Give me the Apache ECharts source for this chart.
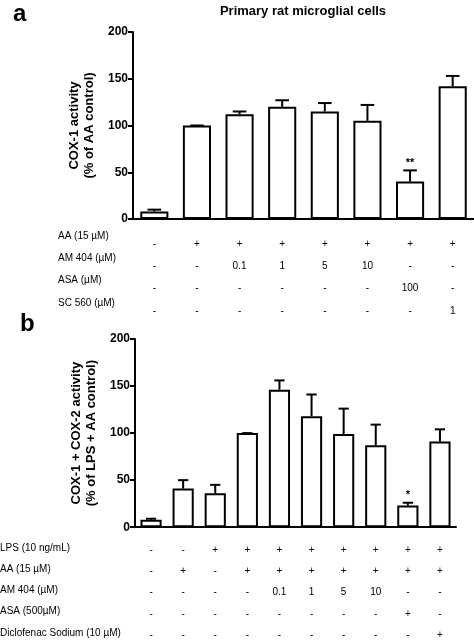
<!DOCTYPE html>
<html>
<head>
<meta charset="utf-8">
<script src="https://cdn.jsdelivr.net/npm/echarts@6/dist/echarts.min.js"></script>
<style>html,body{margin:0;padding:0;background:#fff}#chart{width:474px;height:640px}</style>
</head>
<body>
<div id="chart"></div>
<script>
// panel a
const catsA = ["c1", "c2", "c3", "c4", "c5", "c6", "c7", "c8"];
const meanA = [8, 100, 112, 120, 115, 105, 40, 142];
const errA = [10, 100, 115, 127, 124, 122, 52, 153];
const starsA = ["", "", "", "", "", "", "**", ""];
const rowLabelsA = ["AA (15 µM)", "AM 404 (µM)", "ASA (µM)", "SC 560 (µM)"];
const rowsA = [
	["-", "+", "+", "+", "+", "+", "+", "+"],
	["-", "-", "0.1", "1", "5", "10", "-", "-"],
	["-", "-", "-", "-", "-", "-", "100", "-"],
	["-", "-", "-", "-", "-", "-", "-", "1"],
];
// panel b
const catsB = ["d1", "d2", "d3", "d4", "d5", "d6", "d7", "d8", "d9", "d10"];
const meanB = [8, 41, 36, 100, 146, 118, 99, 87, 23, 91];
const errB = [9, 50, 45, 100, 156, 141, 126, 109, 26, 104];
const starsB = ["", "", "", "", "", "", "", "", "*", ""];
const rowLabelsB = ["LPS (10 ng/mL)", "AA (15 µM)", "AM 404 (µM)", "ASA (500µM)", "Diclofenac Sodium (10 µM)"];
const rowsB = [
	["-", "-", "+", "+", "+", "+", "+", "+", "+", "+"],
	["-", "+", "-", "+", "+", "+", "+", "+", "+", "+"],
	["-", "-", "-", "-", "0.1", "1", "5", "10", "-", "-"],
	["-", "-", "-", "-", "-", "-", "-", "-", "+", "-"],
	["-", "-", "-", "-", "-", "-", "-", "-", "-", "+"],
];

const font = "Liberation Sans, Arial, sans-serif";
const black = "#000";

function mainX(gi, cats) {
	return {
		type: "category", gridIndex: gi, data: cats,
		axisLine: { lineStyle: { color: black, width: 2 } },
		axisTick: { alignWithLabel: true, length: 5, lineStyle: { color: black, width: 2 } },
		axisLabel: { show: false },
	};
}
function rowX(gi, row, offset) {
	return {
		type: "category", gridIndex: gi, data: row, position: "bottom", offset: offset,
		axisLine: { show: false }, axisTick: { show: false },
		axisLabel: { color: black, fontSize: 10, fontFamily: font, interval: 0 },
	};
}
function yAxis(gi, name) {
	return {
		type: "value", gridIndex: gi, min: 0, max: 200, interval: 50,
		name: name, nameLocation: "middle", nameGap: 36,
		nameTextStyle: { color: black, fontSize: 13, fontWeight: "bold", fontFamily: font, lineHeight: 15 },
		axisLine: { show: true, lineStyle: { color: black, width: 2 } },
		axisTick: { show: true, length: 5, lineStyle: { color: black, width: 2 } },
		axisLabel: { color: black, fontSize: 12, fontWeight: "bold", fontFamily: font, margin: 5 },
		splitLine: { show: false },
	};
}
function errSeries(xi, yi, means, tops, stars) {
	return {
		type: "custom", xAxisIndex: xi, yAxisIndex: yi,
		data: means.map((m, i) => [i, m, tops[i]]),
		renderItem: (params, api) => {
			const p0 = api.coord([api.value(0), api.value(1)]);
			const p1 = api.coord([api.value(0), api.value(2)]);
			const half = api.size([1, 0])[0] * 0.16;
			const children = [
				{ type: "line", shape: { x1: p0[0], y1: p0[1], x2: p1[0], y2: p1[1] }, style: { stroke: black, lineWidth: 2 } },
				{ type: "line", shape: { x1: p1[0] - half, y1: p1[1], x2: p1[0] + half, y2: p1[1] }, style: { stroke: black, lineWidth: 2 } },
			];
			const s = stars[params.dataIndex];
			if (s) children.push({ type: "text", style: { text: s, x: p1[0], y: p1[1] - 2, align: "center", verticalAlign: "bottom", fill: black, font: "bold 11px " + font } });
			return { type: "group", children: children };
		},
		z: 1,
	};
}

const xAxes = [mainX(0, catsA)];
rowsA.forEach((r, i) => xAxes.push(rowX(0, r, 12 + i * 22.3)));
const bStart = xAxes.length;
xAxes.push(mainX(1, catsB));
rowsB.forEach((r, i) => xAxes.push(rowX(1, r, 10 + i * 21.2)));

const graphic = [
	{ type: "text", left: 13, top: 2, style: { text: "a", font: "bold 24px " + font, fill: black } },
	{ type: "text", left: 20, top: 312, style: { text: "b", font: "bold 24px " + font, fill: black } },
];
rowLabelsA.forEach((t, i) => graphic.push({ type: "text", left: 58, top: 231 + i * 22.3, style: { text: t, font: "10px " + font, fill: black } }));
rowLabelsB.forEach((t, i) => graphic.push({ type: "text", left: 0, top: 543 + i * 21.2, style: { text: t, font: "10px " + font, fill: black } }));

const chart = echarts.init(document.getElementById("chart"));
chart.setOption({
	animation: false,
	title: { text: "Primary rat microglial cells", left: 298, textAlign: "center", top: 0, textStyle: { fontSize: 13, fontWeight: "bold", fontFamily: font, color: black } },
	graphic: graphic,
	grid: [
		{ left: 133, top: 32, width: 341, height: 187 },
		{ left: 135, top: 339, width: 321, height: 194 },
	],
	xAxis: xAxes,
	yAxis: [yAxis(0, "COX-1 activity\n(% of AA control)"), yAxis(1, "COX-1 + COX-2 activity\n(% of LPS + AA control)")],
	series: [
		{ type: "bar", xAxisIndex: 0, yAxisIndex: 0, data: meanA, barWidth: "66%", itemStyle: { color: "#fff", borderColor: black, borderWidth: 2 }, z: 2 },
		errSeries(0, 0, meanA, errA, starsA),
		{ type: "bar", xAxisIndex: bStart, yAxisIndex: 1, data: meanB, barWidth: "66%", itemStyle: { color: "#fff", borderColor: black, borderWidth: 2 }, z: 2 },
		errSeries(bStart, 1, meanB, errB, starsB),
	],
});
</script>
</body>
</html>
